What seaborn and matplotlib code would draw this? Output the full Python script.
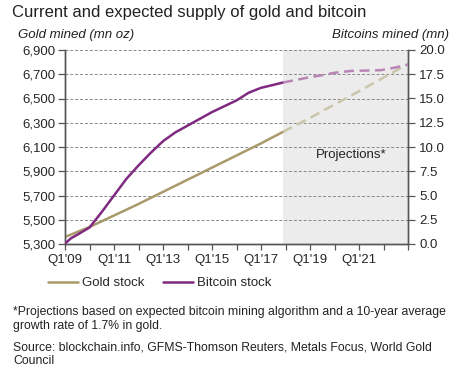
import matplotlib
matplotlib.use("Agg")
import matplotlib.pyplot as plt
import matplotlib.ticker as mticker
from matplotlib.lines import Line2D
import numpy as np
import pandas as pd
import seaborn as sns

# Gold stock, mn oz (actual, then projected)
gold_years = [2009.0, 2010.0, 2011.0, 2012.0, 2013.0, 2014.0, 2015.0, 2016.0, 2017.0, 2017.9]
gold_vals = [5358, 5440, 5535, 5630, 5730, 5830, 5930, 6030, 6130, 6225]
gold_proj_years = [2017.9, 2019.0, 2020.0, 2021.0, 2022.0, 2023.0]
gold_proj_vals = [6225, 6340, 6450, 6560, 6672, 6785]

# Bitcoin stock, mn (actual, then projected)
btc_years = [2009.0, 2009.25, 2009.5, 2010.0, 2010.5, 2011.0, 2011.5, 2012.0, 2012.5,
             2013.0, 2013.5, 2014.0, 2014.5, 2015.0, 2015.5, 2016.0, 2016.5, 2017.0,
             2017.5, 2017.9]
btc_vals = [0.05, 0.6, 0.95, 1.7, 3.3, 5.0, 6.7, 8.1, 9.4,
            10.6, 11.5, 12.2, 12.9, 13.6, 14.2, 14.8, 15.6, 16.1,
            16.4, 16.65]
btc_proj_years = [2017.9, 2018.5, 2019.0, 2019.5, 2020.0, 2020.7, 2021.3, 2021.9, 2022.5, 2023.0]
btc_proj_vals = [16.65, 16.95, 17.2, 17.4, 17.65, 17.85, 17.88, 17.92, 18.2, 18.5]

proj_start = 2017.9
proj_end = 2023.0

xtick_years = list(range(2009, 2024))
xtick_labels = ["Q1'09", "", "Q1'11", "", "Q1'13", "", "Q1'15", "", "Q1'17", "",
                "Q1'19", "", "Q1'21", "", ""]

gold_c = "#a89a6a"
gold_pc = "#cbc5aa"
btc_c = "#7f2a80"
btc_pc = "#b885b6"
axis_c = "#555555"

sns.set_style("white")
plt.rcParams["font.family"] = ["Liberation Sans", "DejaVu Sans"]

fig = plt.figure(figsize=(4.69, 3.88), dpi=100)
ax = fig.add_axes([65 / 469, 1 - 244 / 388, (408 - 65) / 469, (244 - 50) / 388])
ax2 = ax.twinx()

ax.axvspan(proj_start, proj_end, color="#ececec", lw=0, zorder=0)

gold = pd.DataFrame({"year": gold_years, "val": gold_vals})
gold_p = pd.DataFrame({"year": gold_proj_years, "val": gold_proj_vals})
btc = pd.DataFrame({"year": btc_years, "val": btc_vals})
btc_p = pd.DataFrame({"year": btc_proj_years, "val": btc_proj_vals})

sns.lineplot(data=gold, x="year", y="val", ax=ax, color=gold_c, lw=1.8, zorder=3)
sns.lineplot(data=gold_p, x="year", y="val", ax=ax, color=gold_pc, lw=1.8,
             zorder=3).lines[-1].set_dashes((4, 2.2))
sns.lineplot(data=btc, x="year", y="val", ax=ax2, color=btc_c, lw=1.8, zorder=3)
sns.lineplot(data=btc_p, x="year", y="val", ax=ax2, color=btc_pc, lw=1.8,
             zorder=3).lines[-1].set_dashes((4, 2.2))

ax.set_xlim(2009.0, 2023.0)
ax.set_ylim(5300, 6900)
ax2.set_ylim(0, 20)
ax.set_yticks(np.arange(5300, 6901, 200))
ax2.set_yticks(np.arange(0, 20.01, 2.5))
ax.yaxis.set_major_formatter(mticker.FuncFormatter(lambda v, p: f"{int(v):,}"))
ax2.yaxis.set_major_formatter(mticker.FormatStrFormatter("%.1f"))
ax.set_xticks(xtick_years)
ax.set_xticklabels(xtick_labels)

for y in np.arange(5500, 6901, 200):
    ax.axhline(y, color="#888888", lw=0.7, ls=(0, (3, 2)), zorder=1, clip_on=False)

for a in (ax, ax2):
    a.set_xlabel("")
    a.set_ylabel("")
    a.spines["top"].set_visible(False)
    for s in ("left", "right", "bottom"):
        a.spines[s].set_color(axis_c)
        a.spines[s].set_linewidth(1.0)
ax.tick_params(axis="both", direction="out", length=5, width=0.9, color=axis_c,
               labelsize=9.5, pad=2, left=True, bottom=True)
ax2.tick_params(axis="y", direction="out", length=5, width=0.9, color=axis_c,
                labelsize=9.5, pad=3, right=True)
ax.tick_params(axis="x", length=4, pad=3)

ax.text(2020.7, 6030, "Projections*", ha="center", va="center", fontsize=9.5, color="#222222")

fig.text(12 / 469, 1 - 13 / 388, "Current and expected supply of gold and bitcoin",
         ha="left", va="center", fontsize=12, color="#222222")
fig.text(18 / 469, 1 - 35 / 388, "Gold mined (mn oz)", ha="left", va="center",
         fontsize=9.5, style="italic", color="#222222")
fig.text(449 / 469, 1 - 35 / 388, "Bitcoins mined (mn)", ha="right", va="center",
         fontsize=9.5, style="italic", color="#222222")

handles = [Line2D([], [], color=gold_c, lw=1.8), Line2D([], [], color=btc_c, lw=1.8)]
fig.legend(handles, ["Gold stock", "Bitcoin stock"], loc="center left",
           bbox_to_anchor=(36 / 469, 1 - 283 / 388), ncol=2, frameon=False,
           fontsize=9.5, handlelength=2.3, handletextpad=0.3, columnspacing=1.4)

foot = ("*Projections based on expected bitcoin mining algorithm and a 10-year average\n"
        "growth rate of 1.7% in gold.")
fig.text(13 / 469, 1 - 306 / 388, foot, ha="left", va="top", fontsize=8.8,
         color="#222222", linespacing=1.22)
fig.text(13 / 469, 1 - 341 / 388,
         "Source: blockchain.info, GFMS-Thomson Reuters, Metals Focus, World Gold\nCouncil",
         ha="left", va="top", fontsize=8.8, color="#222222", linespacing=1.22)

fig.savefig("out.png", dpi=100)
